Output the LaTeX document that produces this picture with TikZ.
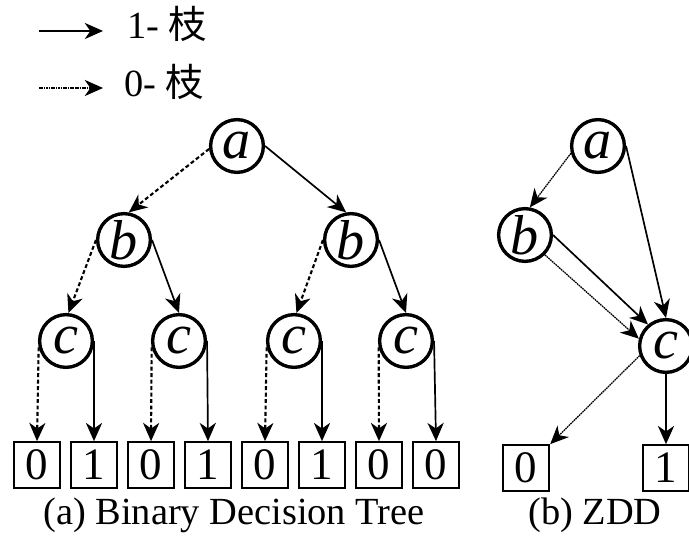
\documentclass[tikz,border=0pt]{standalone}
\usepackage{fontspec}
\setmainfont{Liberation Serif}
\newfontfamily\cjk{Noto Sans CJK SC}
\usetikzlibrary{arrows.meta}

\begin{document}
\begin{tikzpicture}[x=0.025cm,y=-0.025cm,
    var/.style={circle,draw,line width=2.4pt,minimum size=37.5pt,inner sep=0pt,
      font=\fontsize{40}{44}\selectfont\itshape},
    leaf/.style={draw,line width=1.4pt,minimum width=33pt,minimum height=32.5pt,
      inner sep=0pt,font=\fontsize{32}{36}\selectfont},
    one/.style={line width=1.2pt,-{Stealth[length=13pt,width=11.5pt,inset=4pt]}},
    zero/.style={one,line width=1.5pt,dash pattern=on 2.8pt off 1.8pt},
    finezero/.style={one,line width=0.9pt,dash pattern=on 1.2pt off 0.5pt},
    txt/.style={font=\fontsize{27.3}{32}\selectfont,inner sep=0pt}]
  \useasboundingbox (0,0) rectangle (689,544);

  % legend
  \coordinate (k1s) at (39,31);
  \coordinate (k1e) at (103,31);
  \coordinate (k0s) at (39,88);
  \coordinate (k0e) at (103,88);
  \node[txt,anchor=base west] (key1) at (127,39) {1- {\cjk 枝}};
  \node[txt,anchor=base west] (key0) at (124,97) {0- {\cjk 枝}};
  \draw[one] (k1s) -- (k1e);
  \draw[finezero,line width=1.2pt] (k0s) -- (k0e);

  % binary decision tree
  \node[var] (a) at (237,146) {a};
  \node[var] (bl) at (124,240) {b};
  \node[var] (br) at (351,240) {b};
  \foreach \x [count=\i] in {66,179,294,406}
    \node[var] (c\i) at (\x,341) {c};
  \foreach \v [count=\i] in {0,1,0,1,0,1,0,0}
    \node[leaf] (t\i) at ({-20+57*\i},465) {\v};

  \draw[zero] (a.186) -- (bl.80);
  \draw[one] (a.east) -- (br.100);
  \draw[zero] (bl.west) -- (c1.85);
  \draw[one] (bl.east) -- (c2.north);
  \draw[zero] (br.west) -- (c3.85);
  \draw[one] (br.east) -- (c4.north);
  \foreach \i [evaluate=\i as \j using int(2*\i-1),
               evaluate=\i as \k using int(2*\i)] in {1,...,4} {
    \draw[zero] (c\i.193) -- (t\j.north);
    \draw[one] (c\i.east) -- (t\k.north);
  }

  % ZDD
  \node[var] (za) at (598,146) {a};
  \node[var] (zb) at (525,235) {b};
  \node[var] (zc) at (666,346) {c};
  \node[leaf] (z0) at (526,468) {0};
  \node[leaf] (z1) at (666,468) {1};

  \draw[finezero] (za.195) -- (zb.80);
  \draw[one] (za.east) -- (zc.north);
  \draw[one] (zb.east) -- (zc.130);
  \draw[finezero] (zb.-45) -- (zc.165);
  \draw[finezero] (zc.200) -- (z0.north east);
  \draw[one] (zc.south) -- (z1.north);

  % captions
  \node[txt,anchor=base] (capa) at (234,524) {(a) Binary Decision Tree};
  \node[txt,anchor=base] (capb) at (595,524) {(b) ZDD};
\end{tikzpicture}
\end{document}
